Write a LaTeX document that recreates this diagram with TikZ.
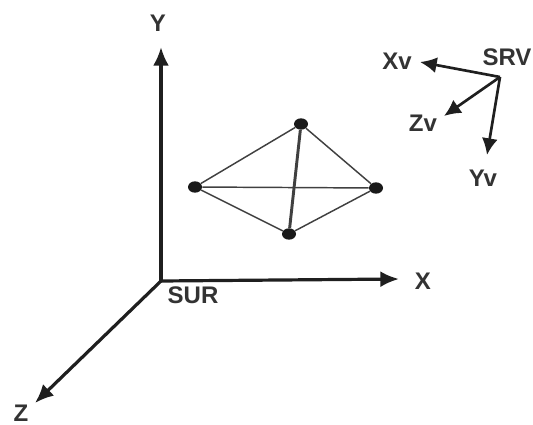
\documentclass[tikz,border=0pt]{standalone}
\usepackage{fontspec}
\setmainfont{Liberation Sans}
\usetikzlibrary{arrows.meta,shapes.geometric}
\tikzset{
  axis/.style={line width=2.4pt,-{Latex[length=14pt,width=12pt]},draw=black!88},
  small/.style={line width=2pt,-{Latex[length=12.5pt,width=12pt]},draw=black!88},
  lbl/.style={inner sep=0pt,font=\bfseries\fontsize{18}{20}\selectfont,text=black!80},
  dot/.style={ellipse,fill=black!90,inner sep=0pt,minimum width=10.5pt,minimum height=8.5pt},
  edge/.style={line width=1.1pt,draw=black!75},
}
\begin{document}
\begin{tikzpicture}[x=0.75pt,y=-0.75pt]
\useasboundingbox (0,0) rectangle (533,425);
\coordinate (o) at (161,281);
\coordinate (yend) at (161,47);
\coordinate (xend) at (399,279);
\coordinate (zend) at (35,403);
\coordinate (s) at (500,77);
\coordinate (xv) at (420,62);
\coordinate (zv) at (444,116);
\coordinate (yv) at (487,155);
\node[dot] (t) at (301,124) {};
\node[dot] (l) at (195,187) {};
\node[dot] (r) at (376,188) {};
\node[dot] (b) at (289,234) {};
\draw[edge] (t)--(l);
\draw[edge] (t)--(r);
\draw[edge] (l)--(r);
\draw[edge] (l)--(b);
\draw[edge] (r)--(b);
\draw[edge,line width=2.2pt] (t)--(b);
\draw[axis] (o)--(yend);
\draw[axis] (o)--(xend);
\draw[axis] (o)--(zend);
\draw[small] (s)--(xv);
\draw[small] (s)--(zv);
\draw[small] (s)--(yv);
\node[lbl] (ly) at (158,23) {Y};
\node[lbl] (lx) at (423,281) {X};
\node[lbl] (lz) at (21,413) {Z};
\node[lbl] (lsur) at (193,295) {SUR};
\node[lbl] (lsrv) at (507,57) {SRV};
\node[lbl] (lxv) at (397,61) {Xv};
\node[lbl] (lzv) at (423,123) {Zv};
\node[lbl] (lyv) at (483,178) {Yv};
\end{tikzpicture}
\end{document}
